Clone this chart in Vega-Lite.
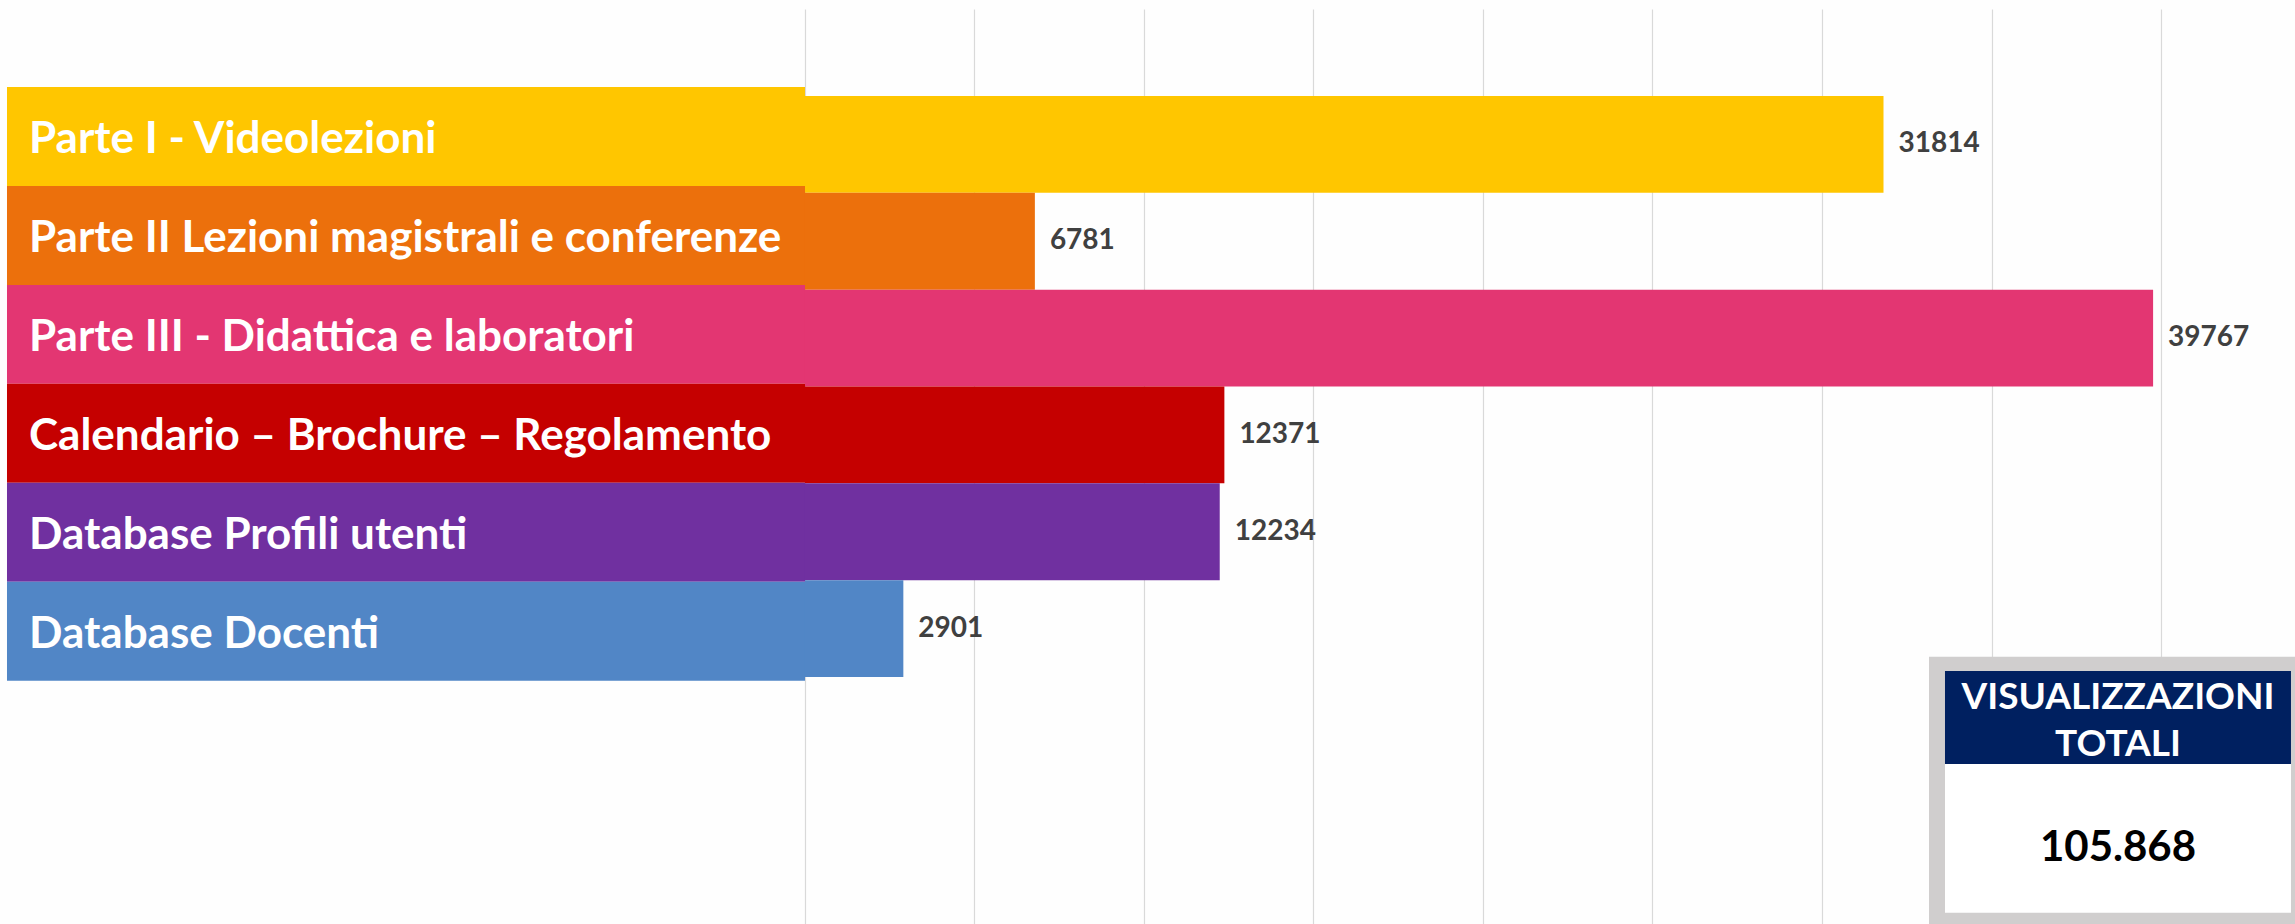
{
  "$schema": "https://vega.github.io/schema/vega-lite/v6.json",
  "width": 2295,
  "height": 915,
  "padding": {"left": 0, "right": 0, "top": 9, "bottom": 0},
  "autosize": {"type": "none"},
  "background": "#fefefe",
  "config": {
    "view": {"stroke": null},
    "locale": {"number": {"decimal": ",", "thousands": ".", "grouping": [3], "currency": ["€", ""]}},
    "axisX": {"grid": true, "gridColor": "#d9d9d9", "gridWidth": 1.2, "domain": false, "ticks": false, "labels": false}
  },
  "data": {
    "values": [
      {"cat": "Parte I - Videolezioni", "value": 31814},
      {"cat": "Parte II Lezioni magistrali e conferenze", "value": 6781},
      {"cat": "Parte III - Didattica e laboratori", "value": 39767},
      {"cat": "Calendario – Brochure – Regolamento", "value": 12371},
      {"cat": "Database Profili utenti", "value": 12234},
      {"cat": "Database Docenti", "value": 2901}
    ]
  },
  "resolve": {"scale": {"y": "independent"}},
  "layer": [
    {
      "layer": [
        {
          "data": {"values": [{}]},
          "mark": {"type": "rect", "color": "#D0CECE"},
          "encoding": {
            "x": {"datum": 33156, "type": "quantitative", "title": null, "scale": {"domain": [-23746.3, 43952.8], "nice": false, "zero": false}, "axis": {"values": [0, 5000, 10000, 15000, 20000, 25000, 30000, 35000, 40000]}},
            "x2": {"datum": 43953},
            "y": {"datum": 29.21, "type": "quantitative", "scale": {"domain": [0, 100]}, "axis": null},
            "y2": {"datum": 0}
          }
        },
        {
          "data": {"values": [{}]},
          "mark": {"type": "rect", "color": "#002060"},
          "encoding": {
            "x": {"datum": 33628, "type": "quantitative", "title": null},
            "x2": {"datum": 43834},
            "y": {"datum": 27.65, "type": "quantitative", "axis": null},
            "y2": {"datum": 17.49}
          }
        },
        {
          "data": {"values": [{}]},
          "mark": {"type": "rect", "color": "#ffffff"},
          "encoding": {
            "x": {"datum": 33628, "type": "quantitative", "title": null},
            "x2": {"datum": 43834},
            "y": {"datum": 17.49, "type": "quantitative", "axis": null},
            "y2": {"datum": 1.235}
          }
        },
        {
          "data": {"values": [{"t": "VISUALIZZAZIONI", "row": 1}, {"t": "TOTALI", "row": 2}]},
          "transform": [{"filter": "datum.row == 1"}],
          "mark": {"type": "text", "align": "center", "baseline": "middle", "font": "Lato", "fontWeight": "bold", "fontSize": 37, "color": "white"},
          "encoding": {
            "x": {"datum": 38732, "type": "quantitative", "title": null},
            "y": {"datum": 24.7, "type": "quantitative", "axis": null},
            "text": {"field": "t"}
          }
        },
        {
          "data": {"values": [{"t": "VISUALIZZAZIONI", "row": 1}, {"t": "TOTALI", "row": 2}]},
          "transform": [{"filter": "datum.row == 2"}],
          "mark": {"type": "text", "align": "center", "baseline": "middle", "font": "Lato", "fontWeight": "bold", "fontSize": 37, "color": "white"},
          "encoding": {
            "x": {"datum": 38732, "type": "quantitative", "title": null},
            "y": {"datum": 19.6, "type": "quantitative", "axis": null},
            "text": {"field": "t"}
          }
        },
        {
          "transform": [{"aggregate": [{"op": "sum", "field": "value", "as": "total"}]}],
          "mark": {"type": "text", "align": "center", "baseline": "middle", "font": "Lato", "fontWeight": "bold", "fontSize": 42, "color": "black"},
          "encoding": {
            "x": {"datum": 38732, "type": "quantitative", "title": null},
            "y": {"datum": 8.27, "type": "quantitative", "axis": null},
            "text": {"field": "total", "type": "quantitative", "format": ",d"}
          }
        }
      ]
    },
    {
      "layer": [
        {
          "mark": {"type": "bar"},
          "encoding": {
            "y": {"field": "cat", "type": "nominal", "sort": null, "axis": null, "scale": {"paddingInner": 0, "paddingOuter": 0, "range": [78, 671.7]}},
            "x": {"datum": -23540, "type": "quantitative", "title": null},
            "x2": {"datum": 0},
            "color": {"field": "cat", "type": "nominal", "legend": null, "scale": {"domain": ["Parte I - Videolezioni", "Parte II Lezioni magistrali e conferenze", "Parte III - Didattica e laboratori", "Calendario – Brochure – Regolamento", "Database Profili utenti", "Database Docenti"], "range": ["#FFC600", "#EC700C", "#E33672", "#C50000", "#7030A0", "#5186C6"]}}
          }
        },
        {
          "mark": {"type": "text", "align": "left", "baseline": "middle", "dx": 22, "dy": 4, "font": "Lato", "fontWeight": "bold", "fontSize": 44, "color": "white"},
          "encoding": {
            "y": {"field": "cat", "type": "nominal", "sort": null, "axis": null},
            "x": {"datum": -23540, "type": "quantitative", "title": null},
            "text": {"field": "cat"}
          }
        }
      ]
    },
    {
      "layer": [
        {
          "mark": {"type": "bar"},
          "encoding": {
            "y": {"field": "cat", "type": "nominal", "sort": null, "axis": null, "scale": {"paddingInner": 0, "paddingOuter": 0, "range": [87, 668]}},
            "x": {"field": "value", "type": "quantitative", "title": null},
            "x2": {"datum": 0},
            "color": {"field": "cat", "type": "nominal", "legend": null}
          }
        },
        {
          "mark": {"type": "text", "align": "left", "baseline": "middle", "dx": 15, "font": "Lato", "fontWeight": "bold", "fontSize": 28, "color": "#404040"},
          "encoding": {
            "y": {"field": "cat", "type": "nominal", "sort": null, "axis": null},
            "x": {"field": "value", "type": "quantitative", "title": null},
            "text": {"field": "value", "type": "quantitative", "format": "d"}
          }
        }
      ]
    }
  ]
}
